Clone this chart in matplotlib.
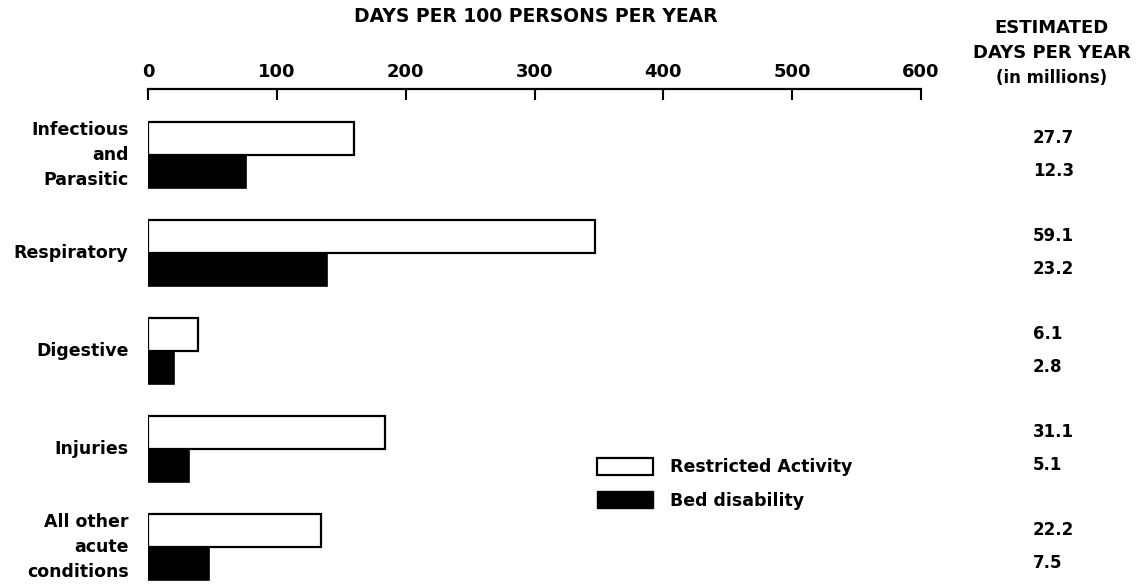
import numpy as np
import matplotlib
matplotlib.use('Agg')
import matplotlib.pyplot as plt
import matplotlib.transforms as mtransforms
from matplotlib.patches import Patch

categories = ['Infectious\nand\nParasitic', 'Respiratory', 'Digestive', 'Injuries',
              'All other\nacute\nconditions']
restricted = [160, 347, 39, 184, 134]
bed = [76, 139, 20, 32, 47]
restricted_millions = ['27.7', '59.1', '6.1', '31.1', '22.2']
bed_millions = ['12.3', '23.2', '2.8', '5.1', '7.5']
xticks = [0, 100, 200, 300, 400, 500, 600]

plt.rcParams['font.family'] = ['DejaVu Sans']
plt.rcParams['font.weight'] = 'bold'

fig = plt.figure(figsize=(11.4, 5.84), dpi=100)
W, H = 1140, 584
ax = fig.add_axes([148 / W, 0, (921 - 148) / W, 1 - 89 / H])

y = np.arange(len(categories))
h = 0.337
ax.barh(y + h / 2, bed, height=h, color='black', edgecolor='black', linewidth=1.2,
        label='Bed disability', zorder=2)
ax.barh(y - h / 2, restricted, height=h, color='white', edgecolor='black', linewidth=1.6,
        label='Restricted Activity', zorder=3)

ax.set_xlim(0, 600)
ax.set_ylim(4.378, -0.673)

for s in ['right', 'bottom', 'left']:
    ax.spines[s].set_visible(False)
ax.spines['top'].set_linewidth(1.6)
ax.xaxis.tick_top()
ax.set_xticks(xticks)
ax.set_xticklabels([str(t) for t in xticks], fontsize=13, fontweight='bold')
ax.tick_params(axis='x', direction='in', length=8, width=1.5, pad=6)

ax.set_yticks(y)
ax.set_yticklabels(categories, fontsize=12.5, fontweight='bold', linespacing=1.5)
for t in ax.get_yticklabels():
    t.set_verticalalignment('center')
ax.tick_params(axis='y', length=0, pad=14)

fig.text(536 / W, 1 - 16 / H, 'DAYS PER 100 PERSONS PER YEAR', ha='center', va='center',
         fontsize=13.5, fontweight='bold')
fig.text(1052 / W, 1 - 28 / H, 'ESTIMATED', ha='center', va='center',
         fontsize=13, fontweight='bold')
fig.text(1052 / W, 1 - 53 / H, 'DAYS PER YEAR', ha='center', va='center',
         fontsize=13, fontweight='bold')
fig.text(1052 / W, 1 - 78 / H, '(in millions)', ha='center', va='center',
         fontsize=12, fontweight='bold')

trans = mtransforms.blended_transform_factory(fig.transFigure, ax.transData)
for i in range(len(categories)):
    ax.text(1033 / W, y[i] - h / 2, restricted_millions[i], transform=trans,
            ha='left', va='center', fontsize=12, fontweight='bold', clip_on=False)
    ax.text(1033 / W, y[i] + h / 2, bed_millions[i], transform=trans,
            ha='left', va='center', fontsize=12, fontweight='bold', clip_on=False)

handles = [Patch(facecolor='white', edgecolor='black', linewidth=1.6),
           Patch(facecolor='black', edgecolor='black')]
ax.legend(handles, ['Restricted Activity', 'Bed disability'], loc='upper left',
          bbox_to_anchor=((597 - 148) / (921 - 148), 1 - (458 - 89) / (584 - 89)),
          frameon=False, fontsize=12.5, handlelength=3.2, handleheight=1.15,
          handletextpad=1.0, labelspacing=0.85, borderaxespad=0, borderpad=0)

fig.savefig('out.png', dpi=100)
